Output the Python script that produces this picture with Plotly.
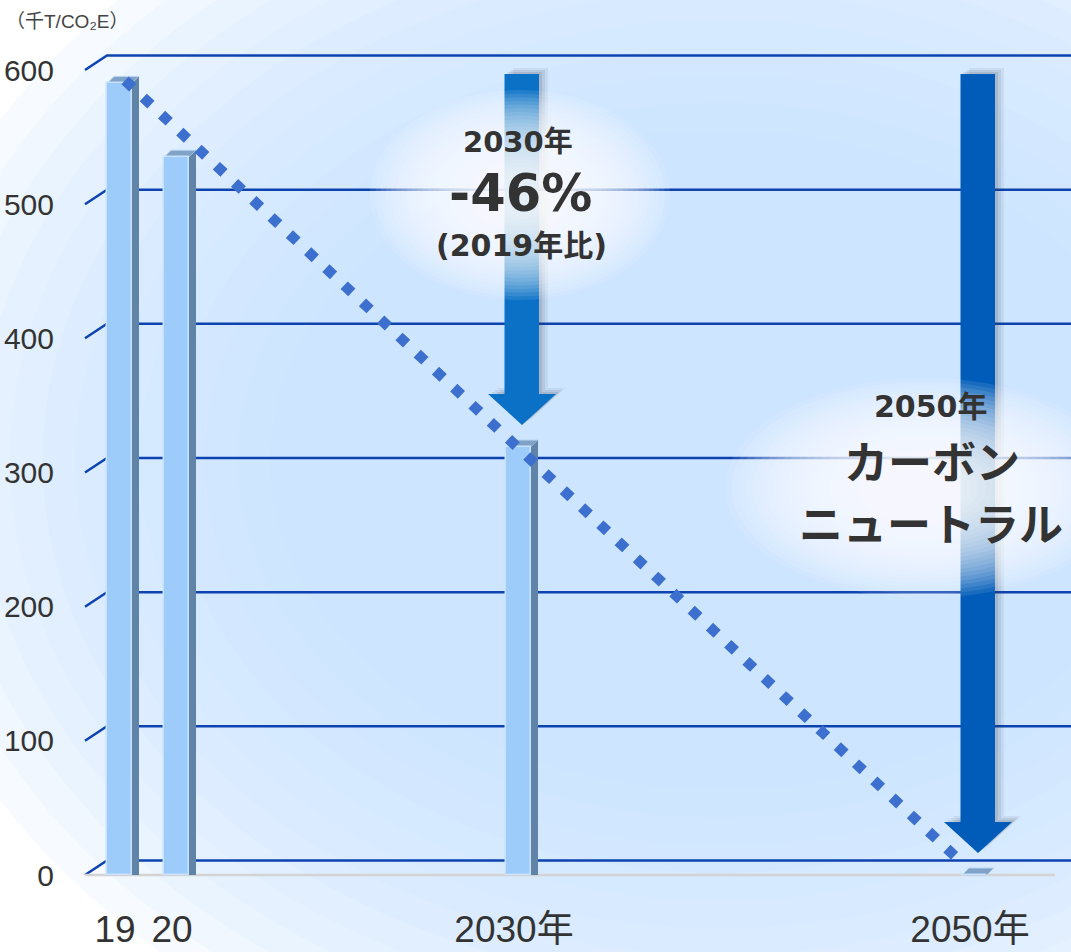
import plotly.graph_objects as go

# ---------------- data ----------------
categories = ["19", "20", "2030年", "2050年"]
emissions = [590, 535, 319, 0]                 # 千t-CO2e
y_tick_values = [0, 100, 200, 300, 400, 500, 600]
trend_start_value = 590                        # 2019 level
trend_end_value = 0                            # 2050 net zero
arrow_categories = ["2030年", "2050年"]
arrow_values = [319, 0]
arrow_top_value = 597
text_2030 = ["2030年", "-46%", "(2019年比)"]
text_2050 = ["2050年", "カーボン", "ニュートラル"]
unit_title = "（千T/CO₂E）"

# ---------------- layout constants ----------------
W, H = 1071, 952
ML, MR, MT, MB = 85, 0, 30, 72
PW, PH = W - ML - MR, H - MT - MB
SLOT = {"19": 0, "20": 1, "2030年": 7, "2050年": 15}
SLOT_PX = 57.0
FIRST_SLOT_PX = 115.0
ZERO_PX = 875.0
PX_PER_UNIT = 805.0 / 600.0

x_range = [-(FIRST_SLOT_PX - ML) / SLOT_PX, -(FIRST_SLOT_PX - ML) / SLOT_PX + PW / SLOT_PX]
y_range = [-(MT + PH - ZERO_PX) / PX_PER_UNIT, (ZERO_PX - MT) / PX_PER_UNIT]


def u(px):  # pixel length -> y data units
    return px / PX_PER_UNIT


def sx(px):  # pixel length -> x slot units
    return px / SLOT_PX


def pxx(px):  # absolute pixel -> paper x
    return (px - ML) / PW


def pxy(py):  # absolute pixel -> paper y
    return 1 - (py - MT) / PH


xs = [SLOT[c] for c in categories]

FRONT = "#9dcbfa"
FRONT_EDGE = "#c8e2ff"
SIDE = "#5f84a8"
TOP = "#7fa2c6"
GRID = "#0c43b0"
TEXT = "#333333"

fig = go.Figure()

# bar front faces
fig.add_trace(go.Bar(
    x=xs, y=emissions, offset=sx(-8), width=sx(25),
    marker=dict(color=FRONT, line=dict(color=FRONT_EDGE, width=1.5)),
    hoverinfo="skip", showlegend=False))
# bar side faces
fig.add_trace(go.Bar(
    x=xs, y=emissions, offset=sx(17), width=sx(7),
    marker=dict(color=SIDE, line=dict(width=0)),
    hoverinfo="skip", showlegend=False))

# dotted trend line (2019 -> 2050)
fig.add_trace(go.Scatter(
    x=[SLOT["19"] + sx(10), SLOT["2050年"] - sx(12)],
    y=[trend_start_value + u(3), trend_end_value + u(16)],
    mode="lines",
    line=dict(color="#3d6fcf", width=10.5, dash="10.5px,14.5px"),
    hoverinfo="skip", showlegend=False))

shapes = []

# background vignette
cx, cy = 720, 460
n_v = 13
for i in range(n_v):
    t = i / (n_v - 1)
    rx = 840 - 390 * t
    ry = 660 - 330 * t
    shapes.append(dict(type="circle", xref="paper", yref="paper",
                       x0=pxx(cx - rx), x1=pxx(cx + rx), y0=pxy(cy + ry), y1=pxy(cy - ry),
                       fillcolor="#c9e1fc", opacity=0.15, line=dict(width=0), layer="below"))

# gridlines in perspective
for v in y_tick_values:
    shapes.append(dict(type="path", xref="paper", yref="y", ysizemode="pixel", yanchor=v,
                       path=f"M0,0 L{pxx(107):.4f},14.5 L1.01,14.5",
                       line=dict(color=GRID, width=2.5), layer="below"))
# front baseline
shapes.append(dict(type="line", xref="paper", yref="y", x0=0, x1=pxx(1055), y0=0, y1=0,
                   line=dict(color="#d3d3d3", width=2.5), layer="below"))

# bar top faces
for x, v in zip(xs, emissions):
    shapes.append(dict(type="path", xref="x", yref="y", xsizemode="pixel", ysizemode="pixel",
                       xanchor=x, yanchor=v, path="M-8,0 L17,0 L24,7 L-1,7 Z",
                       fillcolor=TOP, line=dict(color="#b8d6f4", width=1), layer="below"))
    if v > 0:
        shapes.append(dict(type="path", xref="x", yref="y", xsizemode="pixel", ysizemode="pixel",
                           xanchor=x, yanchor=v, path="M17,0 L24,7 L24,0 Z",
                           fillcolor=SIDE, line=dict(width=0), layer="below"))

# arrows
arrow_colors = ["#0a71c6", "#005cb8"]


def arrow_path(dx, dy, tip, base, top):
    return (f"M{-9.5 + dx},{top + dy} L{25 + dx},{top + dy} L{25 + dx},{base + dy} "
            f"L{42 + dx},{base + dy} L{8 + dx},{tip + dy} L{-26 + dx},{base + dy} "
            f"L{-9.5 + dx},{base + dy} Z")


for cat, v, col in zip(arrow_categories, arrow_values, arrow_colors):
    tip = v + u(22)
    base = v + u(53)
    top = arrow_top_value
    for dx, dyp, op in [(3, 2, 0.12), (6, 4, 0.1), (9, 6, 0.08)]:
        shapes.append(dict(type="path", xref="x", yref="y", xsizemode="pixel", xanchor=SLOT[cat],
                           path=arrow_path(dx, u(dyp), tip, base, top),
                           fillcolor="#303a48", opacity=op, line=dict(width=0), layer="above"))
    shapes.append(dict(type="path", xref="x", yref="y", xsizemode="pixel", xanchor=SLOT[cat],
                       path=arrow_path(0, 0, tip, base, top),
                       fillcolor=col, line=dict(width=0), layer="above"))

# soft white glows behind texts
for (gx, gy, rx, ry) in [(520, 195, 150, 105), (925, 488, 200, 110)]:
    n_g = 24
    for i in range(n_g):
        t = i / (n_g - 1)
        k = 1.0 - 0.8 * t
        shapes.append(dict(type="circle", xref="paper", yref="paper",
                           x0=pxx(gx - rx * k), x1=pxx(gx + rx * k),
                           y0=pxy(gy + ry * k), y1=pxy(gy - ry * k),
                           fillcolor="#ffffff", opacity=0.095, line=dict(width=0), layer="above"))

annotations = []
BOLD_FONT = "DejaVu Sans, Noto Sans CJK JP"
CJK_FONT = "Noto Sans CJK JP"


def add_text(txt, px, py, size, family, weight="bold", color=TEXT, xanchor="center"):
    annotations.append(dict(text=txt, x=pxx(px), y=pxy(py), xref="paper", yref="paper",
                            xanchor=xanchor, yanchor="middle", showarrow=False,
                            font=dict(family=family, size=size, color=color, weight=weight)))


add_text(text_2030[0], 518, 142, 29, BOLD_FONT)
add_text(text_2030[1], 520, 194, 51, BOLD_FONT)
add_text(text_2030[2], 521, 245, 30, BOLD_FONT)
add_text(text_2050[0], 931, 406, 30, BOLD_FONT)
add_text(text_2050[1], 932, 460, 44, CJK_FONT)
add_text(text_2050[2], 931, 522, 44, CJK_FONT)
add_text(unit_title, 4, 21, 19, "Liberation Sans, Noto Sans CJK JP", weight="normal",
         color="#444444", xanchor="left")

fig.update_layout(
    width=W, height=H,
    margin=dict(l=ML, r=MR, t=MT, b=MB, pad=0, autoexpand=False),
    paper_bgcolor="#ffffff", plot_bgcolor="rgba(0,0,0,0)",
    barmode="overlay", bargap=0,
    showlegend=False,
    shapes=shapes, annotations=annotations,
    xaxis=dict(range=x_range, tickmode="array", tickvals=xs, ticktext=categories,
               showgrid=False, zeroline=False, showline=False, automargin=False,
               ticks="outside", ticklen=17, tickcolor="rgba(0,0,0,0)",
               tickfont=dict(family="Liberation Sans, Noto Sans CJK JP", size=37, color=TEXT)),
    yaxis=dict(range=y_range, tickmode="array", tickvals=y_tick_values,
               showgrid=False, zeroline=False, showline=False, automargin=False,
               ticks="outside", ticklen=24, tickcolor="rgba(0,0,0,0)",
               tickfont=dict(family="Liberation Sans", size=30, color=TEXT)),
)

fig.write_html("out.html")
